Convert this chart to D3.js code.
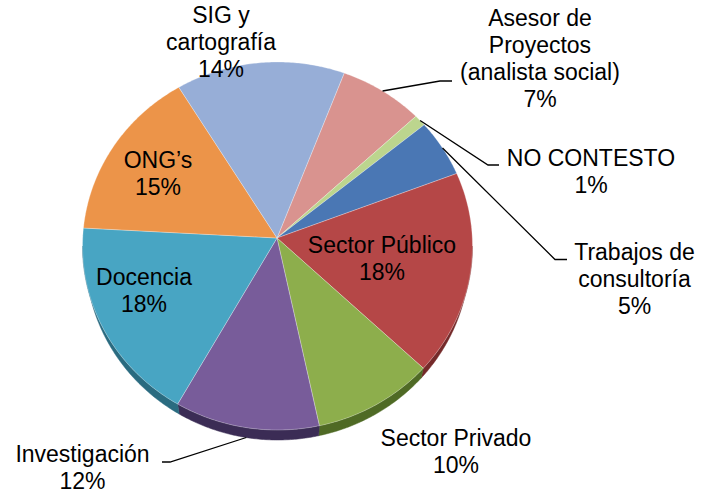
<!DOCTYPE html>
<html>
<head>
<meta charset="utf-8">
<script src="https://cdn.jsdelivr.net/npm/d3@7"></script>
<style>
  html, body { margin: 0; padding: 0; background: #fff; }
  svg { display: block; }
  text { font-family: Arial, "Liberation Sans", sans-serif; font-size: 23px; fill: #000; }
</style>
</head>
<body>
<svg id="chart" width="702" height="493"></svg>
<script>
// data
var categories = ["Asesor de\nProyectos\n(analista social)", "NO CONTESTO", "Trabajos de\nconsultoría",
  "Sector Público", "Sector Privado", "Investigación", "Docencia", "ONG’s", "SIG y\ncartografía"];
var values = [7, 1, 5, 18, 10, 12, 18, 15, 14];
var topColors = ["#d9938f", "#bcd58e", "#4a77b4", "#b54747", "#8dae4c", "#785c9a", "#48a5c3", "#ec9449", "#97aed7"];
var sideColors = ["#8a5552", "#75874f", "#2c4a74", "#752a2a", "#4f6a25", "#3b2c55", "#2a6b80", "#97592a", "#5a6f92"];

// where Excel put each label: centre x, first baseline; and leader elbows where there is one
var labelPos = [[540, 26], [591, 166], [634.5, 260], [382, 253], [456, 446], [82.5, 462], [144, 285], [158, 168], [221, 23]];
var leaders = { 0: [[440, 81], [452, 81]], 1: [[488, 165], [499, 165]], 2: [[555, 259.5], [567, 259.5]], 5: [[170, 462], [162, 462]] };

(function () {
  "use strict";

  var svg = d3.select("#chart");
  var cx = 277.5, cy = 246, rx = 195, ry = 184;
  var apex = [277, 238];
  var depth = 10, rxb = 192, ryb = 184;
  var lineH = 27;

  var start = 20 * Math.PI / 180;
  var pie = d3.pie().sort(null).startAngle(start).endAngle(start + 2 * Math.PI);
  var arcs = pie(values);

  function topPt(a) { return [cx + rx * Math.sin(a), cy - ry * Math.cos(a)]; }
  function botPt(a) { return [cx + rxb * Math.sin(a), cy + depth - ryb * Math.cos(a)]; }
  function steps(a0, a1) {
    var n = Math.max(2, Math.ceil((a1 - a0) / 0.01));
    return d3.range(n + 1).map(function (i) { return a0 + (a1 - a0) * i / n; });
  }
  var line = d3.line();

  // side walls, only the front half shows
  var sides = svg.append("g");
  arcs.forEach(function (d, i) {
    var lo = Math.max(d.startAngle, Math.PI / 2);
    var hi = Math.min(d.endAngle, 3 * Math.PI / 2);
    // angles past 2pi wrap round
    if (d.endAngle > 2 * Math.PI) {
      lo = Math.max(d.startAngle - 2 * Math.PI, Math.PI / 2);
      hi = Math.min(d.endAngle - 2 * Math.PI, 3 * Math.PI / 2);
    }
    if (hi <= lo) return;
    var a = steps(lo, hi);
    var pts = a.map(topPt).concat(a.slice().reverse().map(botPt));
    sides.append("path")
      .attr("d", line(pts) + "Z")
      .attr("fill", sideColors[i])
      .attr("stroke", sideColors[i])
      .attr("stroke-width", 0.5);
  });

  // top faces
  var tops = svg.append("g");
  arcs.forEach(function (d, i) {
    var pts = [apex].concat(steps(d.startAngle, d.endAngle).map(topPt));
    tops.append("path")
      .attr("d", line(pts) + "Z")
      .attr("fill", topColors[i])
      .attr("stroke", "rgba(255,255,255,0.35)")
      .attr("stroke-width", 0.8)
      .attr("stroke-linejoin", "round");
  });

  // leader lines
  Object.keys(leaders).forEach(function (k) {
    var d = arcs[+k];
    var mid = (d.startAngle + d.endAngle) / 2;
    var p = topPt(mid);
    var c = Math.cos(mid);
    if (c < 0) p = [p[0], p[1] - depth * c];
    svg.append("path")
      .attr("d", line([p].concat(leaders[k])))
      .attr("fill", "none")
      .attr("stroke", "#000")
      .attr("stroke-width", 1.3);
  });

  // labels
  var labels = svg.append("g").attr("text-anchor", "middle");
  categories.forEach(function (name, i) {
    var lines = name.split("\n").concat([values[i] + "%"]);
    var t = labels.append("text")
      .attr("x", labelPos[i][0])
      .attr("y", labelPos[i][1]);
    lines.forEach(function (s, j) {
      t.append("tspan")
        .attr("x", labelPos[i][0])
        .attr("dy", j === 0 ? 0 : lineH)
        .text(s);
    });
  });
})();
</script>
</body>
</html>
